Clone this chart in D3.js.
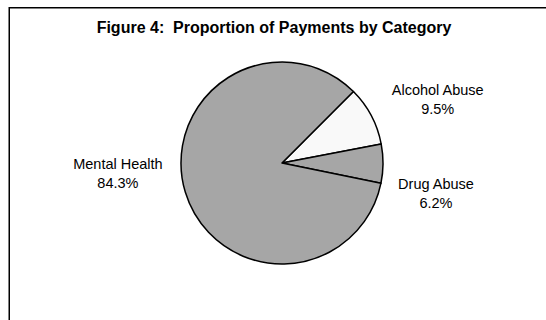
<!DOCTYPE html>
<html>
<head>
<meta charset="utf-8">
<script src="https://cdn.jsdelivr.net/npm/d3@7"></script>
<style>
  body { margin: 0; background: #fff; }
  text { font-family: "Liberation Sans", Arial, sans-serif; fill: #000; }
</style>
</head>
<body>
<div id="chart"></div>
<script>
var categories = ['Alcohol Abuse', 'Drug Abuse', 'Mental Health'];
var shares = [9.5, 6.2, 84.3];
var sliceColors = ['#f9f9f9', '#a6a6a6', '#a6a6a6'];

var W = 546, H = 320;
var cx = 282, cy = 163, r = 101;

// label nudges (Excel "best fit" placement is not purely radial)
var nudge = {
  'Alcohol Abuse': [32, 2],
  'Drug Abuse': [14, 29],
  'Mental Health': [-30, -30]
};

var data = categories.map(function (c, i) {
  return { name: c, value: shares[i], clr: sliceColors[i] };
});

var svg = d3.select('#chart').append('svg')
  .attr('width', W).attr('height', H);

// frame (runs off the right and bottom edge)
svg.append('rect')
  .attr('x', 9.25).attr('y', 7.75)
  .attr('width', 700).attr('height', 500)
  .style('fill', 'none')
  .style('stroke', '#000')
  .style('stroke-width', 1.5);

svg.append('text')
  .attr('x', 274).attr('y', 33)
  .attr('text-anchor', 'middle')
  .attr('font-size', 16)
  .attr('font-weight', 'bold')
  .style('white-space', 'pre')
  .text('Figure 4:  Proportion of Payments by Category');

var pie = d3.pie().sort(null).value(function (d) { return d.value; })
  .startAngle(Math.PI / 4).endAngle(Math.PI / 4 + 2 * Math.PI);

var arc = d3.arc().innerRadius(0).outerRadius(r);
var labelArc = d3.arc().innerRadius(140).outerRadius(140);

var g = svg.append('g').attr('transform', 'translate(' + cx + ',' + cy + ')');

g.selectAll('path.slice')
  .data(pie(data))
  .enter().append('path')
  .attr('class', 'slice')
  .attr('d', arc)
  .style('fill', function (d) { return d.data.clr; })
  .style('stroke', '#000')
  .style('stroke-width', 1.5)
  .style('stroke-linejoin', 'round');

var lab = g.selectAll('g.lab')
  .data(pie(data))
  .enter().append('g')
  .attr('class', 'lab')
  .attr('transform', function (d) {
    var p = labelArc.centroid(d);
    var n = nudge[d.data.name];
    return 'translate(' + (p[0] + n[0]) + ',' + (p[1] + n[1]) + ')';
  });

lab.append('text')
  .attr('text-anchor', 'middle')
  .attr('font-size', 14.5)
  .attr('y', -4)
  .text(function (d) { return d.data.name; });

lab.append('text')
  .attr('text-anchor', 'middle')
  .attr('font-size', 14.5)
  .attr('y', 15)
  .text(function (d) { return d.data.value.toFixed(1) + '%'; });
</script>
</body>
</html>
